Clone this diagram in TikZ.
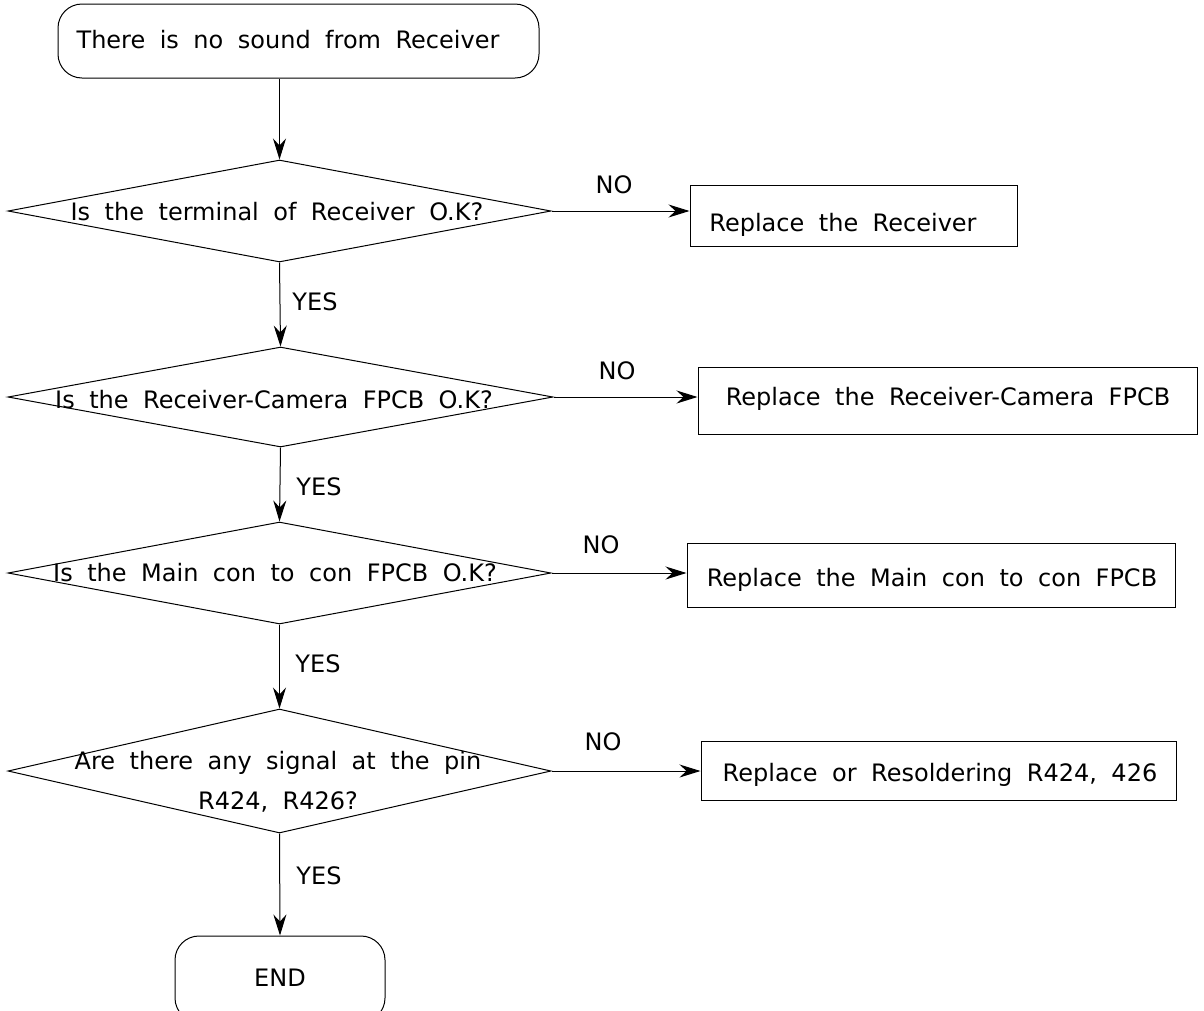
\documentclass[tikz,border=0pt]{standalone}
\usepackage{fontspec}
\setmainfont{DejaVu Sans}[WordSpace=1.9]
\usetikzlibrary{shapes.geometric,arrows.meta}
\begin{document}
\begin{tikzpicture}[x=1pt,y=-1pt,
  every node/.style={font=\fontsize{24pt}{40pt}\selectfont, inner sep=0pt},
  txt/.style={text height=18pt,text depth=5pt,align=center},
  dec/.style={draw,diamond,line width=1pt},
  proc/.style={draw,rectangle,line width=1pt},
  term/.style={draw,rectangle,rounded corners=24pt,line width=1pt},
  arr/.style={-{Stealth[length=21pt,width=13pt,inset=7pt]},line width=1pt}]
\useasboundingbox (0,0) rectangle (1204,1010);
\clip (0,0) rectangle (1204,1010);

% start
\node[term, minimum width=481pt, minimum height=74pt] (start) at (298.5,41) {};
\node[txt] (t0) at (288,42) {There is no sound from Receiver};

% decision 1
\node[dec, minimum width=543pt, minimum height=102pt] (d1) at (279.5,211) {};
\node[txt] (t1) at (277,214) {Is the terminal of Receiver O.K?};
\node[proc, minimum width=327pt, minimum height=61pt] (b1) at (853.5,215.5) {};
\node[txt] (tb1) at (843,225) {Replace the Receiver};
\node[txt] (no1) at (614,187) {NO};
\node[txt] (yes1) at (315,304) {YES};

% decision 2
\node[dec, minimum width=545pt, minimum height=100pt] (d2) at (280.5,397) {};
\node[txt] (t2) at (274,402) {Is the Receiver-Camera FPCB O.K?};
\node[proc, minimum width=499pt, minimum height=67pt] (b2) at (947.5,400.5) {};
\node[txt] (tb2) at (948,399) {Replace the Receiver-Camera FPCB};
\node[txt] (no2) at (617,373) {NO};
\node[txt] (yes2) at (319,489) {YES};

% decision 3
\node[dec, minimum width=543pt, minimum height=102pt] (d3) at (279.5,573) {};
\node[txt] (t3) at (275,575) {Is the Main con to con FPCB O.K?};
\node[proc, minimum width=488pt, minimum height=64pt] (b3) at (931,575) {};
\node[txt] (tb3) at (932,580) {Replace the Main con to con FPCB};
\node[txt] (no3) at (601,547) {NO};
\node[txt] (yes3) at (318,666) {YES};

% decision 4
\node[dec, minimum width=543pt, minimum height=124pt] (d4) at (279.5,771) {};
\node[align=center] (t4) at (278,782) {Are there any signal at the pin\\R424, R426?};
\node[proc, minimum width=475pt, minimum height=59pt] (b4) at (938.5,770.5) {};
\node[txt] (tb4) at (940,775) {Replace or Resoldering R424, 426};
\node[txt] (no4) at (603,744) {NO};
\node[txt] (yes4) at (319,878) {YES};

% end
\node[term, minimum width=210pt, minimum height=86pt] (fin) at (280,979) {};
\node[txt] (tend) at (280,980) {END};

% connectors
\draw[arr] (start.south -| d1.north) -- (d1.north);
\draw[arr] (d1.south) -- (d2.north);
\draw[arr] (d2.south) -- (d3.north);
\draw[arr] (d3.south) -- (d4.north);
\draw[arr] (d4.south) -- (fin.north);
\draw[arr] (d1.east) -- (d1.east -| b1.west);
\draw[arr] (d2.east) -- (d2.east -| b2.west);
\draw[arr] (d3.east) -- (d3.east -| b3.west);
\draw[arr] (d4.east) -- (d4.east -| b4.west);
\end{tikzpicture}
\end{document}
